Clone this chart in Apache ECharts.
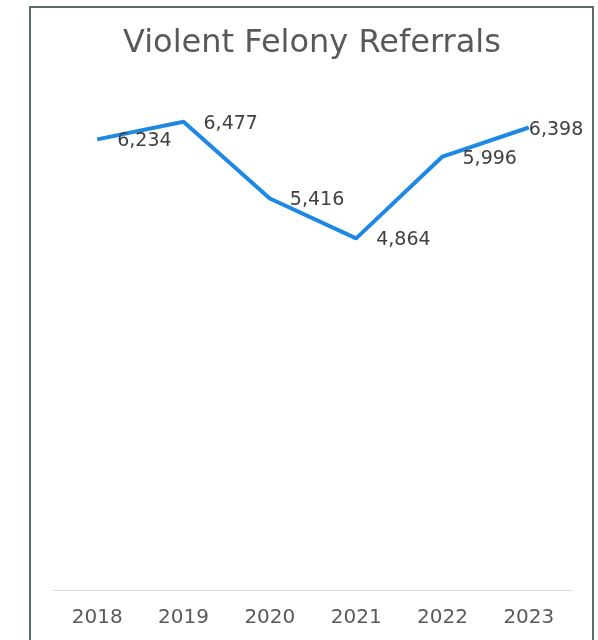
<!DOCTYPE html>
<html>
<head>
<meta charset="utf-8">
<script src="https://cdn.jsdelivr.net/npm/echarts@6/dist/echarts.min.js"></script>
<style>
  html, body { margin: 0; padding: 0; background: #ffffff; }
  #chart { width: 598px; height: 640px; }
</style>
</head>
<body>
<div id="chart"></div>
<script>
// Annual violent felony referral counts
const years = ['2018', '2019', '2020', '2021', '2022', '2023'];
const referrals = [6234, 6477, 5416, 4864, 5996, 6398];

const chart = echarts.init(document.getElementById('chart'));

const fmt = v => v.toLocaleString('en-US');

const points = referrals.map((v, i) => ({
  value: v,
  label: i === referrals.length - 1 ? { offset: [-20, 3] } : { offset: [0, 2] }
}));

chart.setOption({
  animation: false,
  backgroundColor: '#ffffff',
  title: {
    text: 'Violent Felony Referrals',
    left: 118,
    top: 23,
    textStyle: {
      fontFamily: 'DejaVu Sans',
      fontSize: 32,
      fontWeight: 'normal',
      color: '#595959'
    }
  },
  graphic: [{
    type: 'rect',
    shape: { x: 30, y: 7, width: 563, height: 650 },
    style: { fill: 'none', stroke: '#5f6b6b', lineWidth: 2 },
    silent: true
  }],
  grid: { left: 54, right: 26, top: 84, bottom: 50 },
  xAxis: {
    type: 'category',
    data: years,
    boundaryGap: true,
    axisLine: { lineStyle: { color: '#d9d9d9', width: 1 } },
    axisTick: { show: false },
    axisLabel: {
      fontFamily: 'DejaVu Sans',
      fontSize: 20,
      color: '#595959',
      margin: 18
    }
  },
  yAxis: {
    type: 'value',
    min: 0,
    max: 7000,
    show: false,
    splitLine: { show: false }
  },
  series: [{
    type: 'line',
    data: points,
    symbol: 'circle',
    symbolSize: 0,
    showSymbol: true,
    lineStyle: { color: '#1E88E5', width: 4 },
    itemStyle: { color: '#1E88E5' },
    label: {
      show: true,
      position: 'right',
      distance: 20,
      fontFamily: 'DejaVu Sans',
      fontSize: 19,
      color: '#404040',
      formatter: p => fmt(p.value)
    }
  }]
});
</script>
</body>
</html>
